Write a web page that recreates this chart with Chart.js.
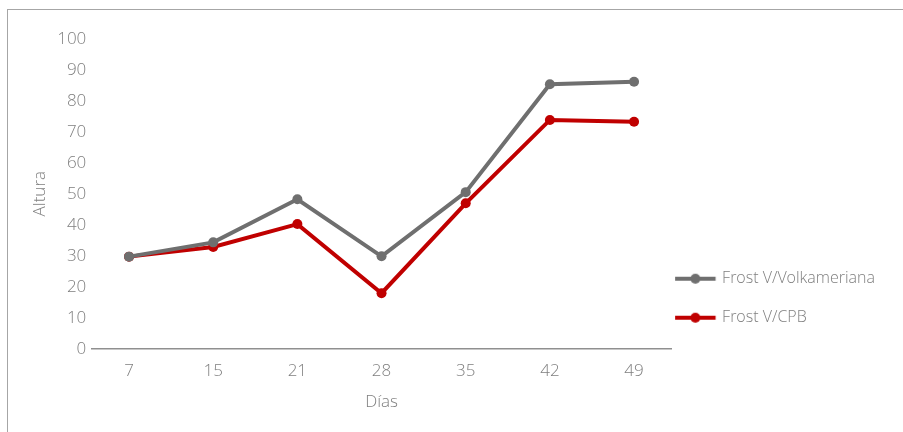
<!DOCTYPE html>
<html>
<head>
<meta charset="utf-8">
<script src="https://cdn.jsdelivr.net/npm/chart.js@4/dist/chart.umd.min.js"></script>
<style>
  html, body { margin: 0; padding: 0; background: #fff; overflow: hidden; }
  body { width: 903px; height: 432px; position: relative; }
  #frame { position: absolute; left: 7px; top: 9px; width: 940px; height: 460px; border-left: 1px solid #a6a6a6; border-top: 1px solid #a6a6a6; }
  #wrap { position: absolute; left: 0; top: 0; width: 903px; height: 432px; }
</style>
</head>
<body>
<div id="frame"></div>
<div id="wrap"><canvas id="graph"></canvas></div>
<script>
// eje x (días)
const dias = ["7", "15", "21", "28", "35", "42", "49"];
// altura por patrón
const volkameriana = [29.7, 34.3, 48.2, 29.8, 50.5, 85.3, 86.1];
const cpb = [29.7, 32.8, 40.2, 17.9, 46.9, 73.8, 73.2];
const nombres = ["Frost V/Volkameriana", "Frost V/CPB"];
const colores = ["#6f6f6f", "#c00000"];

const texto = "#7f7f7f";
const fuente = { family: "'Open Sans'", size: 17, weight: 300 };

// marca de leyenda: línea con punto
function marca(color) {
  const c = document.createElement("canvas");
  c.width = 62;
  c.height = 14;
  const ctx = c.getContext("2d");
  ctx.strokeStyle = color;
  ctx.lineWidth = 4;
  ctx.beginPath();
  ctx.moveTo(2, 7);
  ctx.lineTo(42.5, 7);
  ctx.stroke();
  ctx.fillStyle = color;
  ctx.beginPath();
  ctx.arc(22.3, 7, 5, 0, Math.PI * 2);
  ctx.fill();
  return c;
}
const marcas = colores.map(marca);

// cada día en su posición (índice) del eje
function serie(i, valores) {
  return {
    label: nombres[i],
    data: valores.map((y, k) => ({ x: k, y: y })),
    borderColor: colores[i],
    backgroundColor: colores[i],
    borderWidth: 4,
    pointRadius: 5,
    pointHoverRadius: 5,
    pointBorderWidth: 0,
    pointBackgroundColor: colores[i],
    tension: 0,
  };
}

let config = {
  type: "line",
  data: {
    datasets: [serie(0, volkameriana), serie(1, cpb)],
  },
  options: {
    responsive: true,
    maintainAspectRatio: false,
    animation: false,
    devicePixelRatio: 1,
    layout: { padding: { top: 38.7, left: 0, bottom: 0, right: 18 } },
    plugins: {
      tooltip: { enabled: false },
      legend: {
        position: "right",
        align: "end",
        fullSize: false,
        labels: {
          usePointStyle: true,
          pointStyleWidth: 20,
          padding: 23,
          color: texto,
          font: { family: "'Open Sans'", size: 16, weight: 300 },
          generateLabels: (chart) =>
            Chart.defaults.plugins.legend.labels
              .generateLabels(chart)
              .map((item, i) => ({ ...item, pointStyle: marcas[i] })),
        },
      },
    },
    scales: {
      x: {
        type: "linear",
        min: -0.44,
        max: 6.44,
        grid: { display: false, drawTicks: false },
        border: { display: true, color: "#8f8f8f", width: 1.5 },
        ticks: {
          color: texto,
          font: fuente,
          padding: 12,
          callback: (v) => dias[v],
        },
        afterBuildTicks: (scale) => {
          scale.ticks = dias.map((d, k) => ({ value: k }));
        },
        title: { display: true, text: "Días", color: texto, font: fuente, padding: { top: 0, bottom: 19.5 } },
        afterFit: (scale) => { scale.height = 83.3; },
      },
      y: {
        min: 0,
        max: 100,
        grid: { display: false, drawTicks: false },
        border: { display: false },
        ticks: { stepSize: 10, color: texto, font: fuente, padding: 5.7 },
        title: { display: true, text: "Altura", color: texto, font: fuente, padding: { top: 29.8, bottom: 0 } },
        afterFit: (scale) => { scale.width = 92; },
      },
    },
  },
};

window.onload = () => {
  new Chart(document.getElementById("graph"), config);
};
</script>
</body>
</html>
